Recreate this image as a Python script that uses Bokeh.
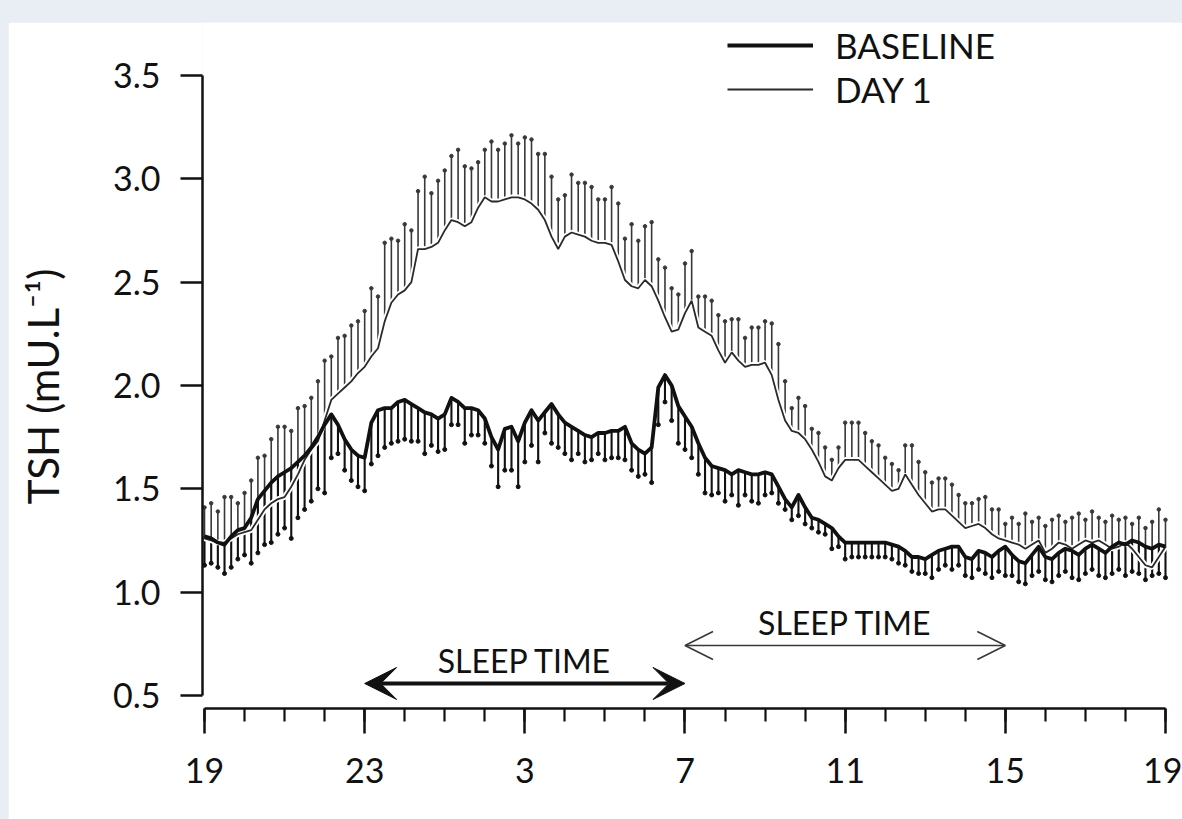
from bokeh.plotting import figure
from bokeh.layouts import column
from bokeh.models import (ColumnDataSource, FixedTicker, NumeralTickFormatter,
                          Arrow, OpenHead, VeeHead, Label, Legend, LegendItem)
from bokeh.embed import file_html
from bokeh.resources import INLINE

# Samples every 10 minutes, 19:00 -> 19:00 next day (hours since 19:00)
minutes = list(range(0, 24 * 60 + 1, 10))
hours = [m / 60 for m in minutes]

# Baseline TSH mean and mean - SEM (mU/L)
base_mean = [
    1.27, 1.26, 1.24, 1.23, 1.27, 1.30, 1.31, 1.36, 1.45, 1.49, 1.53, 1.56,
    1.58, 1.60, 1.63, 1.66, 1.70, 1.75, 1.81, 1.86, 1.81, 1.74, 1.69, 1.66,
    1.65, 1.82, 1.88, 1.89, 1.89, 1.92, 1.93, 1.91, 1.89, 1.87, 1.86, 1.84,
    1.86, 1.94, 1.92, 1.89, 1.89, 1.88, 1.84, 1.75, 1.69, 1.79, 1.80, 1.73,
    1.82, 1.88, 1.83, 1.87, 1.91, 1.86, 1.82, 1.80, 1.78, 1.76, 1.75, 1.77,
    1.77, 1.78, 1.78, 1.80, 1.72, 1.69, 1.67, 1.70, 1.99, 2.05, 2.00, 1.90,
    1.85, 1.80, 1.72, 1.65, 1.61, 1.60, 1.59, 1.57, 1.59, 1.58, 1.57, 1.57,
    1.58, 1.57, 1.51, 1.45, 1.41, 1.47, 1.41, 1.36, 1.35, 1.33, 1.31, 1.27,
    1.24, 1.24, 1.24, 1.24, 1.24, 1.24, 1.24, 1.23, 1.22, 1.20, 1.17, 1.17,
    1.16, 1.18, 1.20, 1.21, 1.22, 1.22, 1.17, 1.16, 1.20, 1.19, 1.17, 1.20,
    1.22, 1.18, 1.15, 1.14, 1.18, 1.22, 1.17, 1.16, 1.19, 1.21, 1.20, 1.18,
    1.21, 1.23, 1.21, 1.19, 1.22, 1.24, 1.23, 1.25, 1.24, 1.22, 1.21, 1.23,
    1.22,
]
base_low = [
    1.13, 1.14, 1.12, 1.09, 1.12, 1.16, 1.18, 1.14, 1.19, 1.23, 1.24, 1.28,
    1.31, 1.26, 1.36, 1.40, 1.44, 1.50, 1.48, 1.65, 1.67, 1.59, 1.54, 1.51,
    1.49, 1.62, 1.66, 1.70, 1.72, 1.73, 1.74, 1.73, 1.73, 1.67, 1.71, 1.68,
    1.69, 1.81, 1.81, 1.72, 1.76, 1.76, 1.72, 1.61, 1.51, 1.59, 1.59, 1.51,
    1.63, 1.71, 1.63, 1.77, 1.72, 1.70, 1.67, 1.64, 1.67, 1.63, 1.64, 1.67,
    1.64, 1.65, 1.65, 1.64, 1.59, 1.56, 1.57, 1.53, 1.81, 1.92, 1.83, 1.72,
    1.69, 1.65, 1.57, 1.48, 1.47, 1.48, 1.44, 1.47, 1.42, 1.47, 1.44, 1.43,
    1.47, 1.48, 1.43, 1.40, 1.35, 1.37, 1.33, 1.31, 1.29, 1.28, 1.21, 1.22,
    1.16, 1.17, 1.17, 1.17, 1.17, 1.17, 1.17, 1.16, 1.14, 1.13, 1.10, 1.09,
    1.09, 1.07, 1.11, 1.13, 1.11, 1.13, 1.08, 1.07, 1.11, 1.09, 1.07, 1.10,
    1.08, 1.08, 1.05, 1.04, 1.08, 1.10, 1.06, 1.05, 1.08, 1.10, 1.07, 1.06,
    1.09, 1.11, 1.08, 1.07, 1.09, 1.11, 1.08, 1.10, 1.09, 1.06, 1.08, 1.09,
    1.07,
]

# Day 1 TSH mean and mean + SEM (mU/L)
day1_mean = [
    1.26, 1.25, 1.24, 1.24, 1.26, 1.28, 1.29, 1.30, 1.35, 1.40, 1.43, 1.45,
    1.46, 1.51, 1.57, 1.64, 1.69, 1.73, 1.83, 1.93, 1.96, 1.99, 2.02, 2.06,
    2.09, 2.14, 2.18, 2.31, 2.40, 2.44, 2.46, 2.50, 2.66, 2.66, 2.67, 2.69,
    2.75, 2.80, 2.79, 2.77, 2.79, 2.86, 2.91, 2.89, 2.89, 2.90, 2.91, 2.91,
    2.90, 2.88, 2.85, 2.80, 2.72, 2.66, 2.72, 2.74, 2.73, 2.72, 2.70, 2.69,
    2.69, 2.68, 2.60, 2.51, 2.48, 2.47, 2.51, 2.48, 2.41, 2.33, 2.26, 2.27,
    2.35, 2.41, 2.28, 2.26, 2.24, 2.17, 2.11, 2.16, 2.12, 2.09, 2.10, 2.10,
    2.11, 2.05, 1.93, 1.83, 1.78, 1.77, 1.74, 1.69, 1.63, 1.56, 1.54, 1.60,
    1.64, 1.64, 1.64, 1.61, 1.58, 1.55, 1.52, 1.49, 1.50, 1.57, 1.52, 1.47,
    1.43, 1.39, 1.40, 1.40, 1.37, 1.34, 1.31, 1.32, 1.33, 1.31, 1.28, 1.26,
    1.25, 1.24, 1.23, 1.21, 1.23, 1.25, 1.19, 1.21, 1.24, 1.23, 1.21, 1.23,
    1.25, 1.24, 1.25, 1.23, 1.21, 1.22, 1.24, 1.21, 1.17, 1.13, 1.12, 1.17,
    1.22,
]
day1_high = [
    1.41, 1.43, 1.39, 1.46, 1.46, 1.43, 1.48, 1.54, 1.65, 1.66, 1.74, 1.80,
    1.80, 1.78, 1.89, 1.90, 1.94, 2.02, 2.12, 2.14, 2.23, 2.24, 2.29, 2.31,
    2.36, 2.47, 2.43, 2.69, 2.71, 2.70, 2.78, 2.75, 2.94, 3.01, 2.93, 2.99,
    3.04, 3.11, 3.14, 3.06, 3.05, 3.08, 3.14, 3.18, 3.14, 3.17, 3.21, 3.17,
    3.20, 3.19, 3.12, 3.12, 3.01, 2.90, 2.92, 3.02, 2.98, 2.98, 2.96, 2.90,
    2.90, 2.96, 2.88, 2.71, 2.78, 2.70, 2.77, 2.79, 2.61, 2.57, 2.47, 2.44,
    2.59, 2.65, 2.43, 2.43, 2.41, 2.34, 2.31, 2.32, 2.32, 2.23, 2.28, 2.28,
    2.31, 2.30, 2.20, 2.02, 1.89, 1.94, 1.90, 1.79, 1.77, 1.70, 1.64, 1.70,
    1.82, 1.82, 1.82, 1.77, 1.73, 1.71, 1.65, 1.62, 1.59, 1.71, 1.71, 1.63,
    1.58, 1.53, 1.55, 1.55, 1.52, 1.47, 1.43, 1.43, 1.45, 1.46, 1.40, 1.40,
    1.33, 1.36, 1.33, 1.38, 1.34, 1.36, 1.32, 1.35, 1.37, 1.34, 1.36, 1.38,
    1.35, 1.39, 1.36, 1.34, 1.37, 1.35, 1.36, 1.33, 1.36, 1.31, 1.34, 1.40,
    1.35,
]

hour_ticks = [0, 4, 8, 12, 16, 20, 24]
hour_labels = ["19", "23", "3", "7", "11", "15", "19"]
tsh_ticks = [0.5, 1.0, 1.5, 2.0, 2.5, 3.0, 3.5]

sleep_baseline = (4, 12)   # 23:00 -> 07:00
sleep_day1 = (12, 20)      # 07:00 -> 15:00

FONT = "Lato"
INK = "#111111"
GREY = "#383838"

src = ColumnDataSource(dict(t=hours, bm=base_mean, bl=base_low,
                            dm=day1_mean, dh=day1_high))

p = figure(width=1174, height=797, x_range=(-0.05, 24.175),
           y_range=(0.437, 3.756), output_backend="svg",
           toolbar_location=None, title=None)
p.min_border = 0
p.min_border_left = 194
p.min_border_right = 10
p.min_border_top = 0
p.min_border_bottom = 111
p.background_fill_color = "white"
p.border_fill_color = "white"
p.outline_line_color = None
p.grid.visible = False

# error bars: day 1 upward, baseline downward
p.segment(x0="t", y0="dm", x1="t", y1="dh", source=src,
          line_color=GREY, line_width=1.6)
p.scatter(x="t", y="dh", source=src, size=3.5, color=GREY)
p.segment(x0="t", y0="bl", x1="t", y1="bm", source=src,
          line_color=INK, line_width=2.1)
p.scatter(x="t", y="bl", source=src, size=4, color=INK)

# mean curves
p.line(x="t", y="dm", source=src, line_color="white", line_width=5.5)
r_day1 = p.line(x="t", y="dm", source=src, line_color="#2a2a2a", line_width=1.8)
r_base = p.line(x="t", y="bm", source=src, line_color=INK, line_width=3.8,
                line_join="round")

# x axis: clock hours
xa = p.xaxis[0]
xa.ticker = FixedTicker(ticks=hour_ticks, minor_ticks=list(range(25)))
xa.major_label_overrides = dict(zip(hour_ticks, hour_labels))
xa.bounds = (0, 24)
xa.axis_line_width = 2.5
xa.axis_line_color = INK
xa.major_tick_line_width = 2.5
xa.minor_tick_line_width = 2.2
xa.major_tick_line_color = INK
xa.minor_tick_line_color = INK
xa.major_tick_out = 25
xa.major_tick_in = 0
xa.minor_tick_out = 13
xa.minor_tick_in = 0
xa.major_label_text_font = FONT
xa.major_label_text_font_size = "34px"
xa.major_label_text_color = INK
xa.major_label_standoff = 24

# y axis: TSH
ya = p.yaxis[0]
ya.ticker = FixedTicker(ticks=tsh_ticks, minor_ticks=[])
ya.formatter = NumeralTickFormatter(format="0.0")
ya.bounds = (0.5, 3.5)
ya.axis_line_width = 2.5
ya.axis_line_color = INK
ya.major_tick_line_width = 2.5
ya.major_tick_line_color = INK
ya.major_tick_out = 22
ya.major_tick_in = 0
ya.minor_tick_out = 0
ya.minor_tick_in = 0
ya.major_label_text_font = FONT
ya.major_label_text_font_size = "34px"
ya.major_label_text_color = INK
ya.major_label_standoff = 20
# two en spaces at the upper end bring the title down to the middle of 0.5..3.5
ya.axis_label = "TSH (mU.L\u207b\u00b9)\u2002\u2002"
ya.axis_label_text_font = FONT
ya.axis_label_text_font_size = "42px"
ya.axis_label_text_font_style = "normal"
ya.axis_label_text_color = INK
ya.axis_label_standoff = 42

# sleep periods
p.add_layout(Arrow(x_start=sleep_baseline[0], x_end=sleep_baseline[1],
                   y_start=0.558, y_end=0.558, line_width=4, line_color=INK,
                   start=VeeHead(size=32, fill_color=INK, line_color=INK),
                   end=VeeHead(size=32, fill_color=INK, line_color=INK)))
p.add_layout(Label(x=sum(sleep_baseline) / 2, y=0.669, text="SLEEP TIME",
                   text_align="center", text_baseline="middle",
                   text_font=FONT, text_font_size="32px", text_color=INK))
p.add_layout(Arrow(x_start=sleep_day1[0], x_end=sleep_day1[1],
                   y_start=0.742, y_end=0.742, line_width=1.6, line_color=GREY,
                   start=OpenHead(size=28, line_width=1.6, line_color=GREY),
                   end=OpenHead(size=28, line_width=1.6, line_color=GREY)))
p.add_layout(Label(x=sum(sleep_day1) / 2, y=0.853, text="SLEEP TIME",
                   text_align="center", text_baseline="middle",
                   text_font=FONT, text_font_size="32px", text_color=INK))

legend = Legend(items=[LegendItem(label="BASELINE", renderers=[r_base]),
                       LegendItem(label="DAY 1", renderers=[r_day1])],
                location=(525, 598), orientation="vertical",
                glyph_width=86, glyph_height=34, label_standoff=22,
                label_text_font=FONT, label_text_font_size="35px",
                label_text_color=INK, label_height=34, spacing=2,
                padding=0, margin=0, border_line_alpha=0,
                background_fill_alpha=0)
p.add_layout(legend)

page = column(p, styles={"background-color": "#e9eef4",
                         "padding-top": "22px", "padding-left": "8px"})

open("out.html", "w").write(file_html(page, INLINE))
